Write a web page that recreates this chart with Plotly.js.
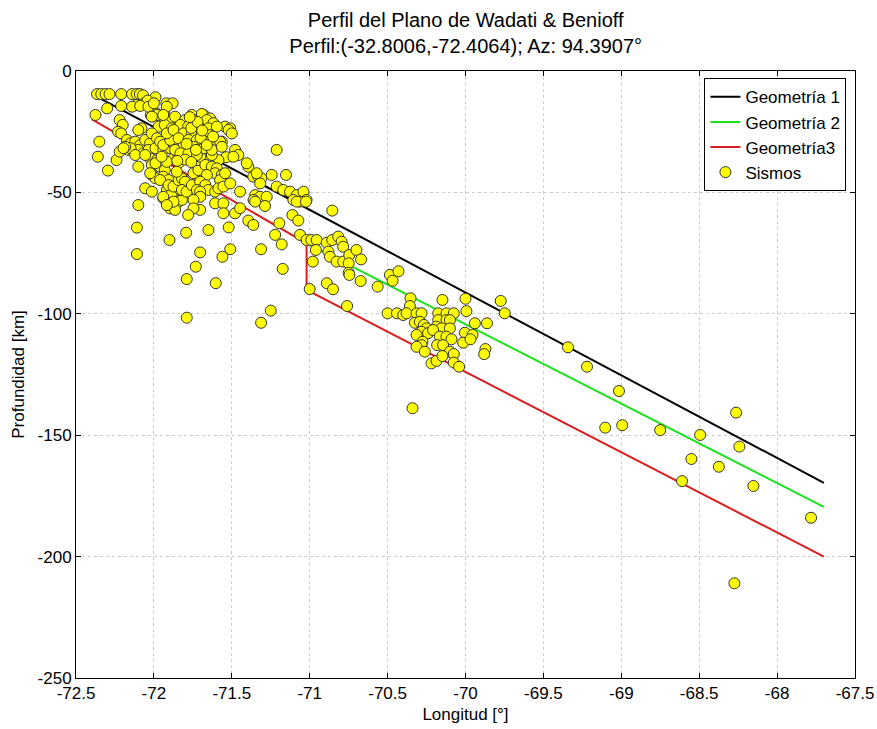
<!DOCTYPE html>
<html>
<head>
<meta charset="utf-8">
<script src="https://cdn.plot.ly/plotly-3.0.1.min.js"></script>
<style>html,body{margin:0;padding:0;background:#fff;}#chart{width:877px;height:729px;}</style>
</head>
<body>
<div id="chart"></div>
<script>
// Geometry lines (longitude, depth)
const geom1Lon = [-72.37, -67.70];
const geom1Dep = [-10.5, -169.6];
const geom2Lon = [-71.02, -67.70];
const geom2Dep = [-71.0, -179.5];
const geom3Lon = [-72.40, -71.02, -71.02, -67.70];
const geom3Dep = [-19.8, -71.0, -90.2, -200.0];

// Earthquakes (Sismos)
const sismosLon = [
-72.365,-72.338,-72.31,-72.285,-72.21,-72.14,-72.11,-72.09,-72.07,-71.99,-71.92,-71.88,-72.30,-72.21,-72.11,-72.07,-72.04,-72.375,-72.22,-72.20,
-72.02,-71.985,-71.94,-72.23,-72.21,-72.35,-72.08,-72.36,-72.295,-72.24,-72.22,-72.14,-72.088,-72.035,-72.0,-71.98,-71.93,-71.895,-72.013,-71.864,
-72.1,-72.173,-72.15,-72.12,-72.088,-72.056,-72.024,-72.163,-72.13,-72.1,-72.067,-72.035,-71.99,-72.024,-71.98,-72.013,-71.96,-71.93,-71.94,-71.906,
-72.013,-71.99,-71.96,-72.056,-72.013,-72.1,-71.94,-71.917,-71.874,-71.853,-71.82,-71.895,-71.864,-71.885,-71.83,-71.94,-71.895,-71.874,-71.842,-71.917,
-71.864,-71.83,-71.97,-71.93,-71.885,-72.013,-71.98,-72.15,-72.184,-72.195,-72.12,-72.1,-72.056,-71.99,-71.96,-72.024,-71.917,-71.95,-71.94,-71.906,
-71.874,-71.842,-71.82,-71.80,-71.82,-71.79,-71.756,-71.746,-71.714,-71.853,-71.874,-71.842,-71.83,-71.895,-71.917,-71.68,-71.64,-71.543,-71.51,-71.564,
-71.479,-71.458,-71.536,-71.586,-71.66,-71.628,-71.724,-71.703,-71.67,-71.628,-71.596,-71.607,-71.564,-71.575,-71.543,-71.66,-71.703,-71.67,-71.65,-71.607,
-71.724,-71.703,-71.703,-71.746,-71.586,-71.554,-71.51,-71.447,-71.49,-71.394,-71.362,-71.33,-71.31,-71.244,-71.212,-71.152,-71.212,-71.17,-71.126,-71.083,
-71.04,-71.02,-71.105,-71.062,-71.35,-71.318,-71.276,-71.36,-71.287,-71.607,-71.554,-71.703,-71.746,-71.906,-71.874,-71.94,-71.404,-71.318,-71.34,-71.757,
-71.692,-71.80,-71.746,-71.66,-71.618,-71.83,-71.78,-71.714,-71.65,-71.596,-71.52,-71.5,-71.874,-71.81,-71.756,-71.692,-71.64,-71.842,-71.778,-71.724,
-71.67,-71.618,-71.575,-71.81,-71.746,-71.68,-71.628,-71.864,-71.83,-71.778,-71.724,-71.564,-71.917,-71.94,-71.79,-71.70,-71.76,-71.73,-71.66,-71.72,
-71.80,-71.76,-71.85,-71.69,-71.62,-71.77,-72.109,-72.109,-71.90,-71.793,-71.789,-71.789,-71.731,-71.703,-71.65,-71.603,-71.56,-71.52,-71.51,-71.554,
-71.479,-71.447,-71.394,-71.362,-71.312,-71.312,-71.25,-71.222,-71.195,-71.18,-71.173,-71.111,-71.073,-71.062,-71.917,-71.78,-71.35,-71.083,-71.024,-70.855,
-71.02,-70.99,-70.955,-70.891,-70.855,-70.817,-70.795,-70.785,-70.96,-70.88,-70.87,-70.827,-70.785,-70.746,-70.70,-70.75,-70.67,-70.98,-70.75,-70.745,
-70.89,-70.85,-71.0,-70.673,-70.564,-70.485,-70.468,-70.43,-70.76,-70.353,-70.357,-70.50,-70.44,-70.40,-70.378,-70.314,-70.282,-70.325,-70.293,-70.267,
-70.25,-70.282,-70.24,-70.314,-70.276,-70.282,-70.314,-70.261,-70.218,-70.186,-70.148,-70.175,-70.122,-70.075,-70.175,-70.122,-70.10,-70.186,-70.154,-70.10,
-70.208,-70.165,-70.122,-70.09,-70.182,-70.144,-70.10,-70.075,-70.148,-70.075,-70.041,-70.0,-69.994,-69.94,-69.862,-70.004,-70.015,-69.955,-69.968,-69.872,
-69.88,-69.774,-69.748,-70.34,-69.342,-69.22,-69.015,-69.103,-68.994,-68.75,-68.494,-68.263,-68.242,-68.55,-68.374,-68.61,-68.152,-67.782,-68.274
];
const sismosDep = [
-9.5,-9.5,-9.5,-9.5,-9.5,-9.5,-9.5,-9.5,-10,-10.8,-13.3,-13.3,-15.4,-14.4,-14,-13.6,-12.2,-18.1,-20.2,-22.2,
-18.1,-17.4,-18.8,-25,-25.7,-29.1,-23.6,-35.3,-41,-36.7,-33.2,-14.7,-14.4,-14.7,-13.3,-18.1,-18.1,-20.2,-18.8,-18.8,
-24.3,-28.4,-29.8,-29.1,-30.5,-28.4,-29.8,-32.5,-33.2,-32.5,-33.9,-32.5,-31.8,-36,-36.7,-38.7,-39.4,-40.8,-43.5,-44.9,
-42.8,-44.2,-44.9,-48.3,-49.7,-55.2,-52.4,-49,-52.4,-54.5,-53.1,-56.6,-57.2,-50.4,-49,-32.5,-31.8,-36,-38,-27,
-26.4,-27.7,-22.9,-22.2,-23.6,-25.7,-27.7,-31.8,-31.2,-31.8,-34.6,-39.4,-34.6,-38,-29.1,-42.1,-37.4,-35.3,-30.5,-47,
-47.6,-44.9,-44.2,-45.6,-49,-49.7,-47,-42.1,-40.8,-41.5,-29.8,-34.6,-35.3,-28.4,-25.7,-18.1,-19.5,-22.9,-23.6,-29.1,
-32.5,-34.6,-35.5,-36.7,-34.6,-34.6,-36.7,-35.3,-38.7,-39.4,-40.1,-42.1,-42.8,-44.9,-42.1,-42.8,-45.6,-47,-49,-49.7,
-49,-49.7,-51.8,-53.1,-48.3,-47.6,-46.3,-49.7,-35.3,-39.4,-43.5,-43.5,-44.2,-42.8,-32.5,-42.8,-47.6,-49,-49.7,-51.1,
-49.7,-53.1,-53.1,-53.8,-51.1,-51.8,-51.8,-53.1,-55.6,-54.5,-54.5,-57.2,-56.6,-54.5,-53.8,-51.8,-38,-46.3,-42.1,-18.1,
-17.7,-20.2,-20.2,-20.2,-21.5,-22.2,-22.9,-22.9,-23.6,-22.9,-24.3,-25.7,-24.3,-25.7,-25.7,-25.7,-26.4,-27.7,-28.4,-28.4,
-29.1,-29.1,-29.1,-31.2,-31.2,-31.8,-32.5,-32.5,-33.9,-33.9,-34.6,-31.2,-14.7,-18.1,-30,-27.5,-23.5,-32.5,-30.5,-21,
-36.5,-37.5,-37,-24.5,-27,-19,-64.5,-75.4,-69.6,-66.6,-85.7,-101.6,-80.6,-74.7,-65.5,-87.4,-76.5,-64.4,-73.4,-58.6,
-58.6,-56.5,-61.6,-63.4,-73.4,-103.7,-98.7,-67.5,-62.7,-71.4,-81.5,-59.3,-61.6,-67.5,-55.2,-59.3,-53.8,-53.8,-53.8,-57.5,
-69.6,-69.6,-69.6,-70.7,-69.6,-68.2,-70.3,-72.4,-73.7,-74.4,-76.5,-78.5,-78.5,-75.8,-73.7,-79.2,-77.6,-78.5,-83.1,-84,
-87.4,-89.9,-89.8,-86.5,-88.8,-84,-86.4,-82.5,-96.8,-93.6,-96.8,-99.8,-99.8,-100.5,-99.8,-99.8,-99.8,-103.7,-103.3,-104.6,
-106,-107.4,-108,-108.7,-111.5,-112.9,-113.6,-115.6,-120.4,-119.4,-94.3,-99.8,-99.8,-99.8,-102.6,-102.6,-102.6,-105.3,-106,-106,
-106.7,-109.4,-109.4,-110.5,-112.9,-112.9,-115.6,-116.6,-117.4,-120.1,-121.8,-93.8,-98.9,-103.9,-103.9,-107.8,-111.9,-108.7,-110.5,-114.5,
-116.6,-94.7,-99.8,-138.9,-113.8,-121.8,-131.8,-146.9,-145.9,-147.9,-149.9,-140.7,-154.7,-159.8,-163,-168.9,-170.9,-184,-211
];

// Tick labels
const xTickVals = [-72.5,-72,-71.5,-71,-70.5,-70,-69.5,-69,-68.5,-68,-67.5];
const xTickText = ["-72.5","-72","-71.5","-71","-70.5","-70","-69.5","-69","-68.5","-68","-67.5"];
const yTickVals = [-250,-200,-150,-100,-50,0];
const yTickText = ["-250","-200","-150","-100","-50","0"];

const traces = [
  {x: geom1Lon, y: geom1Dep, mode: 'lines', name: 'Geometría 1', line: {color: '#000000', width: 2}},
  {x: geom2Lon, y: geom2Dep, mode: 'lines', name: 'Geometría 2', line: {color: '#1ee01e', width: 2}},
  {x: geom3Lon, y: geom3Dep, mode: 'lines', name: 'Geometría3', line: {color: '#d81e1e', width: 2}},
  {x: sismosLon, y: sismosDep, mode: 'markers', name: 'Sismos',
   marker: {color: '#ffff00', size: 11, line: {color: '#333333', width: 1}}}
];

const fontFam = '"Liberation Sans", Arial, sans-serif';
const layout = {
  width: 877, height: 729,
  margin: {l: 76, r: 22, t: 71, b: 51},
  paper_bgcolor: '#ffffff', plot_bgcolor: '#ffffff',
  font: {family: fontFam, size: 16, color: '#000'},
  title: {
    text: 'Perfil del Plano de Wadati &amp; Benioff<br>Perfil:(-32.8006,-72.4064); Az: 94.3907°',
    font: {family: fontFam, size: 20, color: '#000'},
    x: 0.531, xanchor: 'center', y: 0.963, yanchor: 'top'
  },
  xaxis: {
    range: [-72.5, -67.5], tickvals: xTickVals, ticktext: xTickText,
    ticks: 'inside', ticklen: 5, tickcolor: '#000', mirror: 'ticks',
    showline: true, linecolor: '#000', linewidth: 1,
    showgrid: true, gridcolor: '#cccccc', griddash: 'dot', gridwidth: 1,
    zeroline: false, tickfont: {size: 17},
    title: {text: 'Longitud [°]', font: {size: 17}, standoff: 5}
  },
  yaxis: {
    range: [-250, 0], tickvals: yTickVals, ticktext: yTickText,
    ticks: 'inside', ticklen: 5, tickcolor: '#000', mirror: 'ticks',
    showline: true, linecolor: '#000', linewidth: 1,
    showgrid: true, gridcolor: '#cccccc', griddash: 'dot', gridwidth: 1,
    zeroline: false, tickfont: {size: 17},
    title: {text: 'Profundidad [km]', font: {size: 17}, standoff: 8}
  },
  legend: {
    x: 0.989, y: 0.988, xanchor: 'right', yanchor: 'top',
    bgcolor: '#ffffff', bordercolor: '#000', borderwidth: 1,
    font: {size: 17}, tracegroupgap: 0
  },
  showlegend: true
};

Plotly.newPlot('chart', traces, layout, {displayModeBar: false, staticPlot: true});
</script>
</body>
</html>
